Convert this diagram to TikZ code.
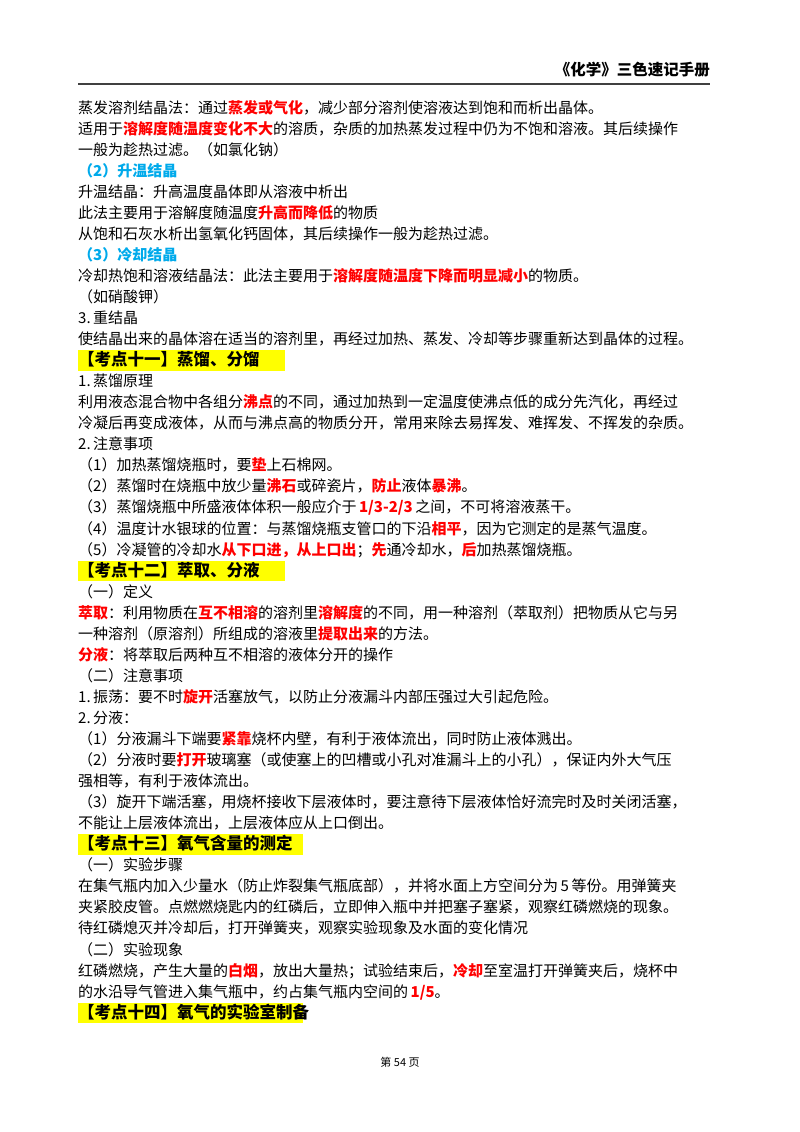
\documentclass[tikz,border=0pt]{standalone}
\usepackage{fontspec}
\setmainfont{Noto Sans CJK SC}
\XeTeXlinebreaklocale "zh"
\XeTeXlinebreakskip=0pt plus 2pt
\definecolor{hred}{RGB}{255,0,0}
\definecolor{hblue}{RGB}{0,170,235}
\definecolor{hyel}{RGB}{255,255,0}
\newcommand{\R}[1]{{\color{hred}\bfseries #1}}
\newcommand{\B}[1]{{\color{hblue}\bfseries #1}}
\newcommand{\HD}[1]{{\fontsize{16.5}{17}\selectfont\bfseries #1}}
\newcommand{\Ypos}[1]{-(108+21.05*#1)-5}
\newcommand{\Lleft}[3]{\node[txt] (#1) at (78,{\Ypos{#2}}) {#3};}
\newcommand{\Lfull}[3]{\node[txt] (#1) at (78,{\Ypos{#2}}) {\makebox[632pt][s]{#3}};}
\newcommand{\Lhead}[3]{\fill[hyel] (78,{\Ypos{#2}+15.5}) rectangle (#3,{\Ypos{#2}-5});}
\begin{document}
\begin{tikzpicture}[x=1pt,y=1pt,
  txt/.style={anchor=base west,inner sep=0pt,font=\fontsize{15}{16}\selectfont}]
\useasboundingbox[fill=white] (0,0) rectangle (800,-1132);
\node[anchor=base east,inner sep=0pt,font=\fontsize{15.5}{16}\selectfont\bfseries] (hdr) at (710,-76) {《化学》三色速记手册};
\draw[line width=1.3pt,black!75] (78,-84) -- (710,-84);
\draw[hyel,line width=1pt] (78,-352) -- (285,-352);
\Lhead{h11}{12}{285}
\Lhead{h12}{22}{285}
\Lhead{h13}{35}{303}
\Lhead{h14}{43}{303}
\Lleft{l0}{0}{蒸发溶剂结晶法：通过\R{蒸发或气化}，减少部分溶剂使溶液达到饱和而析出晶体。}
\Lfull{l1}{1}{适用于\R{溶解度随温度变化不大}的溶质，杂质的加热蒸发过程中仍为不饱和溶液。其后续操作}
\Lleft{l2}{2}{一般为趁热过滤。（如氯化钠）}
\Lleft{l3}{3}{\B{（2）升温结晶}}
\Lleft{l4}{4}{升温结晶：升高温度晶体即从溶液中析出}
\Lleft{l5}{5}{此法主要用于溶解度随温度\R{升高而降低}的物质}
\Lleft{l6}{6}{从饱和石灰水析出氢氧化钙固体，其后续操作一般为趁热过滤。}
\Lleft{l7}{7}{\B{（3）冷却结晶}}
\Lleft{l8}{8}{冷却热饱和溶液结晶法：此法主要用于\R{溶解度随温度下降而明显减小}的物质。}
\Lleft{l9}{9}{（如硝酸钾）}
\Lleft{l10}{10}{3.\,重结晶}
\Lfull{l11}{11}{使结晶出来的晶体溶在适当的溶剂里，再经过加热、蒸发、冷却等步骤重新达到晶体的过程。}
\Lleft{l12}{12}{\HD{【考点十一】蒸馏、分馏}}
\Lleft{l13}{13}{1.\,蒸馏原理}
\Lfull{l14}{14}{利用液态混合物中各组分\R{沸点}的不同，通过加热到一定温度使沸点低的成分先汽化，再经过}
\Lfull{l15}{15}{冷凝后再变成液体，从而与沸点高的物质分开，常用来除去易挥发、难挥发、不挥发的杂质。}
\Lleft{l16}{16}{2.\,注意事项}
\Lleft{l17}{17}{（1）加热蒸馏烧瓶时，要\R{垫}上石棉网。}
\Lleft{l18}{18}{（2）蒸馏时在烧瓶中放少量\R{沸石}或碎瓷片，\R{防止}液体\R{暴沸}。}
\Lleft{l19}{19}{（3）蒸馏烧瓶中所盛液体体积一般应介于\,\R{1/3-2/3}\,之间，不可将溶液蒸干。}
\Lleft{l20}{20}{（4）温度计水银球的位置：与蒸馏烧瓶支管口的下沿\R{相平}，因为它测定的是蒸气温度。}
\Lleft{l21}{21}{（5）冷凝管的冷却水\R{从下口进，从上口出}；\R{先}通冷却水，\R{后}加热蒸馏烧瓶。}
\Lleft{l22}{22}{\HD{【考点十二】萃取、分液}}
\Lleft{l23}{23}{（一）定义}
\Lfull{l24}{24}{\R{萃取}：利用物质在\R{互不相溶}的溶剂里\R{溶解度}的不同，用一种溶剂（萃取剂）把物质从它与另}
\Lleft{l25}{25}{一种溶剂（原溶剂）所组成的溶液里\R{提取出来}的方法。}
\Lleft{l26}{26}{\R{分液}：将萃取后两种互不相溶的液体分开的操作}
\Lleft{l27}{27}{（二）注意事项}
\Lleft{l28}{28}{1.\,振荡：要不时\R{旋开}活塞放气，以防止分液漏斗内部压强过大引起危险。}
\Lleft{l29}{29}{2.\,分液：}
\Lleft{l30}{30}{（1）分液漏斗下端要\R{紧靠}烧杯内壁，有利于液体流出，同时防止液体溅出。}
\Lfull{l31}{31}{（2）分液时要\R{打开}玻璃塞（或使塞上的凹槽或小孔对准漏斗上的小孔），保证内外大气压}
\Lleft{l32}{32}{强相等，有利于液体流出。}
\Lfull{l33}{33}{（3）旋开下端活塞，用烧杯接收下层液体时，要注意待下层液体恰好流完时及时关闭活塞，}
\Lleft{l34}{34}{不能让上层液体流出，上层液体应从上口倒出。}
\Lleft{l35}{35}{\HD{【考点十三】氧气含量的测定}}
\Lleft{l36}{36}{（一）实验步骤}
\Lfull{l37}{37}{在集气瓶内加入少量水（防止炸裂集气瓶底部），并将水面上方空间分为\,5\,等份。用弹簧夹}
\Lfull{l38}{38}{夹紧胶皮管。点燃燃烧匙内的红磷后，立即伸入瓶中并把塞子塞紧，观察红磷燃烧的现象。}
\Lleft{l39}{39}{待红磷熄灭并冷却后，打开弹簧夹，观察实验现象及水面的变化情况}
\Lleft{l40}{40}{（二）实验现象}
\Lfull{l41}{41}{红磷燃烧，产生大量的\R{白烟}，放出大量热；试验结束后，\R{冷却}至室温打开弹簧夹后，烧杯中}
\Lleft{l42}{42}{的水沿导气管进入集气瓶中，约占集气瓶内空间的\,\R{1/5}。}
\Lleft{l43}{43}{\HD{【考点十四】氧气的实验室制备}}
\node[anchor=base,inner sep=0pt,font=\fontsize{11}{12}\selectfont] (ftr) at (400,-1066) {第 54 页};
\end{tikzpicture}
\end{document}
